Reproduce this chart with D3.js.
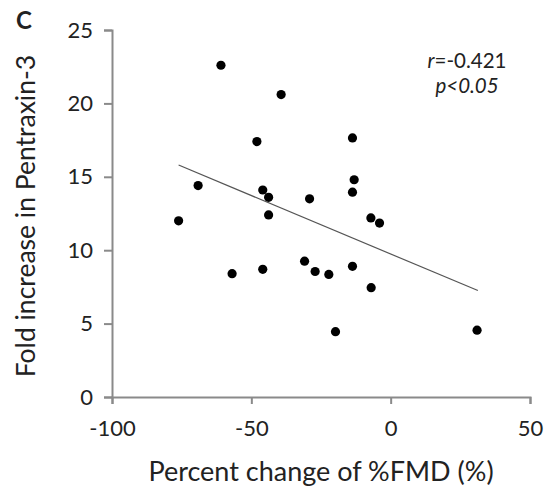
<!DOCTYPE html>
<html>
<head>
<meta charset="utf-8">
<script src="https://cdn.jsdelivr.net/npm/d3@7"></script>
<style>
  body { margin: 0; background: #fff; }
  text { font-family: Lato, "Open Sans", sans-serif; fill: #222; }
</style>
</head>
<body>
<svg id="chart" width="549" height="487"></svg>
<script>
// values
const fmdChange = [-76.1, -69.1, -60.9, -56.9, -48.0, -45.9, -45.9, -43.8, -43.8, -39.3,
  -30.9, -29.1, -27.1, -22.2, -19.8, -13.7, -13.7, -13.7, -13.1, -7.1, -7.0, -4.0, 31.0];
const ptx3Fold = [12.0, 14.4, 22.6, 8.4, 17.4, 14.1, 8.7, 13.6, 12.4, 20.6,
  9.25, 13.5, 8.55, 8.35, 4.45, 17.65, 13.95, 8.9, 14.8, 12.2, 7.45, 11.85, 4.55];
const trendX = [-76.1, 31.3];
const trendY = [15.8, 7.25];
const xTicks = [-100, -50, 0, 50];
const yTicks = [0, 5, 10, 15, 20, 25];

const svg = d3.select('#chart');
const margin = { top: 30, left: 112, right: 19, bottom: 90 };
const width = +svg.attr('width');
const height = +svg.attr('height');
const innerW = width - margin.left - margin.right;
const innerH = height - margin.top - margin.bottom;

const x = d3.scaleLinear().domain([-100, 50]).range([0, innerW]);
const y = d3.scaleLinear().domain([0, 25]).range([innerH, 0]);

const g = svg.append('g')
  .attr('transform', `translate(${margin.left},${margin.top})`);

// plain hyphen minus like the original, not the unicode minus
const plain = d => String(d);

const xAxisG = g.append('g')
  .attr('transform', `translate(0,${innerH})`)
  .call(d3.axisBottom(x).tickValues(xTicks).tickFormat(plain)
    .tickSizeOuter(0).tickSize(7).tickPadding(16));
const yAxisG = g.append('g')
  .call(d3.axisLeft(y).tickValues(yTicks).tickFormat(plain)
    .tickSizeOuter(0).tickSize(8).tickPadding(11));

[xAxisG, yAxisG].forEach(ax => {
  ax.selectAll('.domain, .tick line').attr('stroke', '#8a8a8a').attr('stroke-width', 2);
  ax.selectAll('text').style('font-size', '22px').attr('fill', '#222');
});

// regression line
g.append('line')
  .attr('x1', x(trendX[0])).attr('y1', y(trendY[0]))
  .attr('x2', x(trendX[1])).attr('y2', y(trendY[1]))
  .attr('stroke', '#555').attr('stroke-width', 1.2);

// points
g.selectAll('circle').data(fmdChange)
  .enter().append('circle')
  .attr('cx', d => x(d))
  .attr('cy', (d, i) => y(ptx3Fold[i]))
  .attr('r', 4.6)
  .attr('fill', '#000');

// panel letter
svg.append('text')
  .attr('x', 16).attr('y', 29)
  .style('font-size', '24px').style('font-weight', 'bold')
  .text('C');

// axis titles
svg.append('text')
  .attr('x', 321).attr('y', 481)
  .attr('text-anchor', 'middle')
  .style('font-size', '27px')
  .text('Percent change of %FMD (%)');

svg.append('text')
  .attr('transform', 'translate(35, 216) rotate(-90)')
  .attr('text-anchor', 'middle')
  .style('font-size', '26.5px')
  .text('Fold increase in Pentraxin-3');

// stats annotation
const stat = svg.append('g').attr('transform', 'translate(467,0)');
const r = stat.append('text').attr('y', 68).attr('text-anchor', 'middle').style('font-size', '20.5px');
r.append('tspan').style('font-style', 'italic').text('r');
r.append('tspan').text('=-0.421');
stat.append('text').attr('y', 93).attr('text-anchor', 'middle')
  .style('font-size', '20.5px').style('font-style', 'italic')
  .text('p<0.05');
</script>
</body>
</html>
